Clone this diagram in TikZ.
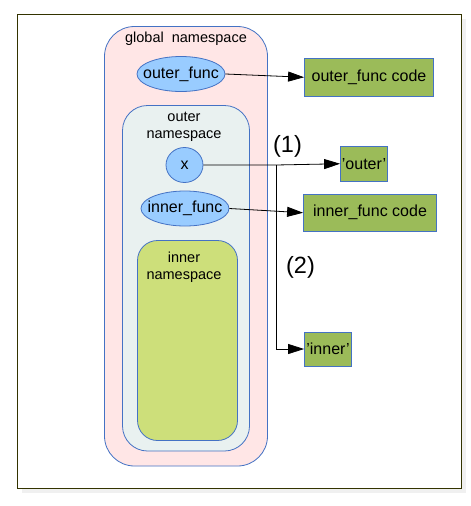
\documentclass[tikz,border=0pt]{standalone}
\usepackage{fontspec}
\setmainfont{Liberation Sans}
\usetikzlibrary{arrows.meta,shapes.geometric}
\definecolor{bordblue}{RGB}{68,114,196}
\definecolor{globfill}{RGB}{255,230,230}
\definecolor{outfill}{RGB}{233,241,240}
\definecolor{infill}{RGB}{205,223,122}
\definecolor{ellfill}{RGB}{153,204,255}
\definecolor{codefill}{RGB}{155,187,89}
\definecolor{framecol}{RGB}{51,51,0}
\definecolor{shadowcol}{RGB}{240,240,240}
\newcommand{\zw}[1]{\makebox[0pt]{#1}}
\tikzset{
  nsbox/.style={draw=bordblue, line width=0.8pt},
  varell/.style={ellipse, draw=bordblue, fill=ellfill, line width=0.8pt, inner sep=0pt, font=\fontsize{16}{18}\selectfont},
  codebox/.style={draw=bordblue, fill=codefill, line width=0.8pt, inner sep=0pt, font=\fontsize{16}{18}\selectfont},
  nstext/.style={font=\fontsize{14.5}{16.5}\selectfont, align=center, inner sep=0pt},
  lbl/.style={font=\fontsize{23.5}{26}\selectfont, inner sep=0pt},
  ptr/.style={-{Triangle[length=16pt,width=10pt]}, line width=0.8pt},
}
\begin{document}
\begin{tikzpicture}[x=1pt,y=-1pt]
\useasboundingbox (0,0) rectangle (471,506);
% frame with shadow
\fill[shadowcol] (21.5,18.5) rectangle (465.5,492.5);
\draw[framecol, fill=white, line width=1pt] (17.5,14.5) rectangle (461.5,488.5);
% namespaces
\draw[nsbox, fill=globfill, rounded corners=30pt] (104.5,26.5) rectangle (267.5,466);
\node[nstext] (gt) at (186,39) {global\ \ namespace};
\draw[nsbox, fill=outfill, rounded corners=25pt] (122.5,105.5) rectangle (249.5,451);
\node[nstext] (ot) at (184,127) {outer\\namespace};
\draw[nsbox, fill=infill, rounded corners=20pt] (137.5,240.5) rectangle (237.5,440.5);
\node[nstext] (it) at (184,267) {inner\\namespace};
% variables
\node[varell, minimum width=88pt, minimum height=35pt] (of) at (181,74) {\zw{outer\_func}};
\node[varell, minimum width=37pt, minimum height=35pt] (x) at (184.5,165) {\zw{x}};
\node[varell, minimum width=88pt, minimum height=35pt] (inf) at (185,208.5) {\zw{inner\_func}};
% values
\node[codebox, minimum width=129pt, minimum height=37.5pt] (ofc) at (369,77.25) {outer\_func code};
\node[codebox, minimum width=47pt, minimum height=34.5pt] (vo) at (364,163.75) {'outer'};
\node[codebox, minimum width=133pt, minimum height=36.5pt] (ifc) at (370,212.75) {inner\_func code};
\node[codebox, minimum width=47pt, minimum height=34pt] (vi) at (328,349) {'inner'};
% connectors
\coordinate (j) at (276,165);
\coordinate (jb) at (276,349);
\draw[ptr] (of.east) -- (ofc.west);
\draw[ptr] (inf.east) -- (ifc.west);
\draw[ptr] (x.east) -- (j) -- (vo.west);
\draw[ptr] (j) -- (jb) -- (vi.west);
% labels
\node[lbl] (l1) at (287.5,146.5) {(1)};
\node[lbl] (l2) at (300.5,267) {(2)};
\end{tikzpicture}
\end{document}
